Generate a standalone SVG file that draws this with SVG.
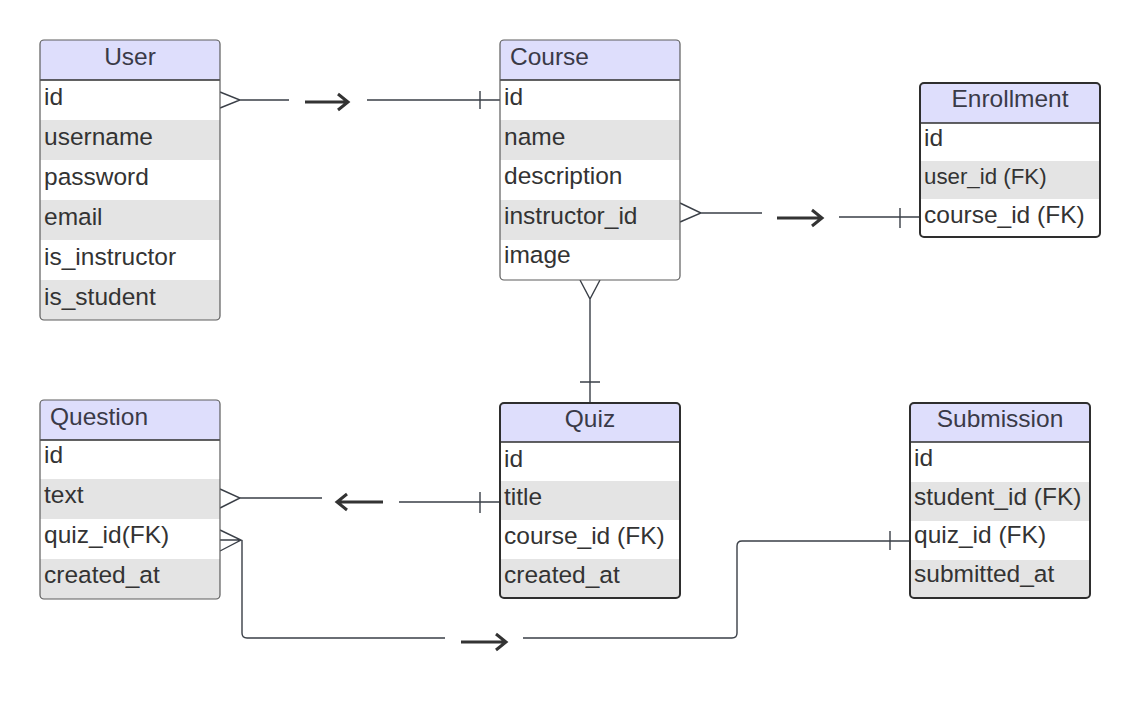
<svg xmlns="http://www.w3.org/2000/svg" width="1140" height="727" viewBox="0 0 1140 727">
<style>
text{font-family:"Liberation Sans",Arial,sans-serif;font-size:24.5px;fill:#333333}
.hd{fill:#3a3a48}
.hdr{fill:#dedefc}
.gr{fill:#e4e4e4}
.thin{fill:none;stroke:#5c5c5c;stroke-width:1.2}
.thick{fill:none;stroke:#2e2e2e;stroke-width:2}
.sep{stroke:#2e2e2e;stroke-width:1.5}
.ln{fill:none;stroke:#3a3f47;stroke-width:1.4}
.ar{fill:none;stroke:#333333;stroke-width:3;stroke-linejoin:miter}
</style>
<defs>
<clipPath id="cU"><rect x="40" y="40" width="180" height="280" rx="4"/></clipPath>
<clipPath id="cC"><rect x="500" y="40" width="180" height="240" rx="4"/></clipPath>
<clipPath id="cE"><rect x="920" y="83" width="180" height="154" rx="4"/></clipPath>
<clipPath id="cQ"><rect x="40" y="400" width="180" height="199" rx="4"/></clipPath>
<clipPath id="cZ"><rect x="500" y="403" width="180" height="195" rx="4"/></clipPath>
<clipPath id="cS"><rect x="910" y="403" width="180" height="195" rx="4"/></clipPath>
</defs>
<rect width="1140" height="727" fill="#ffffff"/>

<g id="connectors">
<!-- User -> Course -->
<path class="ln" d="M220,92 L240,100 L220,108 M240,100 H289 M367,100 H500 M480,91 V109"/>
<path class="ar" d="M305,102 H347 M338,94 L348,102 L338,110"/>
<!-- Course -> Enrollment -->
<path class="ln" d="M680,203 L701,213 L680,222 M701,213 H762 M839,217 H920 M900,208 V228"/>
<path class="ar" d="M777,218 H821 M812,210 L822,218 L812,226"/>
<!-- Course -> Quiz -->
<path class="ln" d="M580,280 L590,299 L600,280 M590,299 V403 M580,382 H600"/>
<!-- Quiz -> Question -->
<path class="ln" d="M220,489 L240,498 L220,508 M240,498 H322 M399,502 H500 M480,492 V513"/>
<path class="ar" d="M383,502 H339 M347,494 L337,502 L347,510"/>
<!-- Question -> Submission -->
<path class="ln" d="M220,530 L241,540 L220,551 M220,540 H241 M242,540 V633 Q242,638 247,638 H445 M523,638 H732 Q737,638 737,633 V546 Q737,541 742,541 H910 M890,531 V550"/>
<path class="ar" d="M461,642 H505 M496,634 L506,642 L496,650"/>
</g>

<g id="user">
<g clip-path="url(#cU)">
<rect x="40" y="40" width="180" height="280" fill="#ffffff"/>
<rect class="hdr" x="40" y="40" width="180" height="40"/>
<rect class="gr" x="40" y="120" width="180" height="40"/>
<rect class="gr" x="40" y="200" width="180" height="40"/>
<rect class="gr" x="40" y="280" width="180" height="40"/>
</g>
<line class="sep" x1="40" y1="80" x2="220" y2="80"/>
<rect class="thin" x="40" y="40" width="180" height="280" rx="4"/>
<text class="hd" x="130" y="65" text-anchor="middle">User</text>
<text x="44" y="105">id</text>
<text x="44" y="145">username</text>
<text x="44" y="185">password</text>
<text x="44" y="225">email</text>
<text x="44" y="265">is_instructor</text>
<text x="44" y="305">is_student</text>
</g>

<g id="course">
<g clip-path="url(#cC)">
<rect x="500" y="40" width="180" height="240" fill="#ffffff"/>
<rect class="hdr" x="500" y="40" width="180" height="40"/>
<rect class="gr" x="500" y="120" width="180" height="40"/>
<rect class="gr" x="500" y="200" width="180" height="40"/>
</g>
<line class="sep" x1="500" y1="80" x2="680" y2="80"/>
<rect class="thin" x="500" y="40" width="180" height="240" rx="4"/>
<text class="hd" x="510" y="65">Course</text>
<text x="504" y="105">id</text>
<text x="504" y="145">name</text>
<text x="504" y="184">description</text>
<text x="504" y="224">instructor_id</text>
<text x="504" y="263">image</text>
</g>

<g id="enrollment">
<g clip-path="url(#cE)">
<rect x="920" y="83" width="180" height="154" fill="#ffffff"/>
<rect class="hdr" x="920" y="83" width="180" height="40"/>
<rect class="gr" x="920" y="161" width="180" height="38"/>
</g>
<line class="sep" x1="920" y1="123" x2="1100" y2="123"/>
<rect class="thick" x="920" y="83" width="180" height="154" rx="4"/>
<text class="hd" x="1010" y="107" text-anchor="middle">Enrollment</text>
<text x="924" y="146">id</text>
<text x="924" y="184" style="font-size:22.3px">user_id (FK)</text>
<text x="924" y="223">course_id (FK)</text>
</g>

<g id="question">
<g clip-path="url(#cQ)">
<rect x="40" y="400" width="180" height="199" fill="#ffffff"/>
<rect class="hdr" x="40" y="400" width="180" height="40"/>
<rect class="gr" x="40" y="479" width="180" height="40"/>
<rect class="gr" x="40" y="559" width="180" height="40"/>
</g>
<line class="sep" x1="40" y1="440" x2="220" y2="440"/>
<rect class="thin" x="40" y="400" width="180" height="199" rx="4"/>
<text class="hd" x="50" y="425">Question</text>
<text x="44" y="463">id</text>
<text x="44" y="503">text</text>
<text x="44" y="543">quiz_id(FK)</text>
<text x="44" y="583">created_at</text>
</g>

<g id="quiz">
<g clip-path="url(#cZ)">
<rect x="500" y="403" width="180" height="195" fill="#ffffff"/>
<rect class="hdr" x="500" y="403" width="180" height="39"/>
<rect class="gr" x="500" y="481" width="180" height="39"/>
<rect class="gr" x="500" y="559" width="180" height="39"/>
</g>
<line class="sep" x1="500" y1="442" x2="680" y2="442"/>
<rect class="thick" x="500" y="403" width="180" height="195" rx="4"/>
<text class="hd" x="590" y="427" text-anchor="middle">Quiz</text>
<text x="504" y="467">id</text>
<text x="504" y="505">title</text>
<text x="504" y="544">course_id (FK)</text>
<text x="504" y="583">created_at</text>
</g>

<g id="submission">
<g clip-path="url(#cS)">
<rect x="910" y="403" width="180" height="195" fill="#ffffff"/>
<rect class="hdr" x="910" y="403" width="180" height="39"/>
<rect class="gr" x="910" y="482" width="180" height="39"/>
<rect class="gr" x="910" y="560" width="180" height="38"/>
</g>
<line class="sep" x1="910" y1="442" x2="1090" y2="442"/>
<rect class="thick" x="910" y="403" width="180" height="195" rx="4"/>
<text class="hd" x="1000" y="427" text-anchor="middle">Submission</text>
<text x="914" y="466">id</text>
<text x="914" y="505">student_id (FK)</text>
<text x="914" y="543">quiz_id (FK)</text>
<text x="914" y="582">submitted_at</text>
</g>
</svg>
